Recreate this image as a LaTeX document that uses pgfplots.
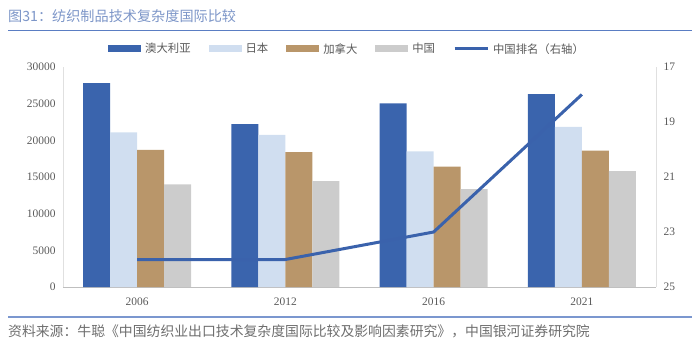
\documentclass[border=0pt]{standalone}
\usepackage{pgfplots}
\pgfplotsset{compat=1.18}
\usepackage{fontspec}
\setmainfont{Liberation Serif}
\newfontfamily\cjk{Noto Sans CJK SC}
\definecolor{ausc}{RGB}{58,100,173}
\definecolor{jpc}{RGB}{208,222,240}
\definecolor{cac}{RGB}{185,150,106}
\definecolor{cnc}{RGB}{204,204,204}
\definecolor{linec}{RGB}{58,98,172}
\definecolor{titlec}{RGB}{125,150,200}
\definecolor{rulec}{RGB}{90,125,195}
\definecolor{txtc}{RGB}{89,89,89}
\definecolor{srcc}{RGB}{110,110,110}
\begin{document}
\begin{tikzpicture}
\useasboundingbox (0bp,0bp) rectangle (700bp,-349bp);
\node[anchor=west, text=titlec, font=\cjk\fontsize{14.2}{16}\selectfont, inner sep=0] at (8bp,-16bp) {图31：纺织制品技术复杂度国际比较};
\draw[rulec, line width=1.5bp] (8bp,-30.7bp) -- (692bp,-30.7bp);
\draw[rulec!80, line width=1.5bp] (8bp,-317bp) -- (692bp,-317bp);
\node[anchor=west, text=srcc, font=\cjk\fontsize{13.9}{15}\selectfont, inner sep=0] at (8bp,-331bp) {资料来源：牛聪《中国纺织业出口技术复杂度国际比较及影响因素研究》，中国银河证券研究院};

\begin{axis}[
  at={(63bp,-287bp)}, anchor=south west,
  scale only axis, width=593bp, height=220bp,
  xmin=-0.5, xmax=3.5, ymin=0, ymax=30000,
  ybar=0pt, bar width=27bp,
  xtick={0,1,2,3}, xticklabels={2006,2012,2016,2021},
  ytick={0,5000,...,30000},
  scaled y ticks=false,
  /pgf/number format/1000 sep={},
  /pgf/number format/assume math mode=true,
  major tick length=0pt,
  axis x line*=bottom, axis y line*=left,
  x axis line style={draw=black!25, line width=0.8bp},
  y axis line style={draw=black!12, line width=0.8bp},
  tick label style={font=\fontsize{11.5}{13}\selectfont, text=txtc},
  yticklabel style={xshift=-4bp},
  xticklabel style={yshift=-7bp},
  legend style={at={(0.479,1.082)}, anchor=center, legend columns=5, draw=none, fill=none,
    font=\cjk\fontsize{11.4}{13}\selectfont, text=txtc,
    /tikz/every even column/.append style={column sep=16bp},
    /tikz/every odd column/.append style={column sep=2bp}},
  legend image code/.code={\fill[#1] (0bp,-3.5bp) rectangle (33bp,3.5bp);},
  legend cell align=left,
]
\addplot[fill=ausc, draw=none] coordinates {(0,27800) (1,22200) (2,25050) (3,26300)};
\addlegendentry{澳大利亚}
\addplot[fill=jpc, draw=none] coordinates {(0,21100) (1,20750) (2,18500) (3,21850)};
\addlegendentry{日本}
\addplot[fill=cac, draw=none] coordinates {(0,18700) (1,18400) (2,16400) (3,18600)};
\addlegendentry{加拿大}
\addplot[fill=cnc, draw=none] coordinates {(0,14000) (1,14450) (2,13350) (3,15800)};
\addlegendentry{中国}
\addlegendimage{legend image code/.code={\draw[linec, line width=3bp] (0bp,0bp) -- (33bp,0bp);}}
\addlegendentry{中国排名（右轴）}
\end{axis}

\begin{axis}[
  at={(63bp,-287bp)}, anchor=south west,
  scale only axis, width=593bp, height=220bp,
  xmin=-0.5, xmax=3.5, ymin=17, ymax=25, y dir=reverse,
  ytick={17,19,...,25},
  /pgf/number format/assume math mode=true,
  major tick length=0pt,
  axis x line=none, axis y line*=right,
  y axis line style={draw=black!12, line width=0.8bp},
  tick label style={font=\fontsize{11.5}{13}\selectfont, text=txtc},
  yticklabel style={xshift=4bp},
]
\addplot[linec, line width=3bp, mark=none] coordinates {(0,24) (1,24) (2,23) (3,18)};
\end{axis}
\end{tikzpicture}
\end{document}
